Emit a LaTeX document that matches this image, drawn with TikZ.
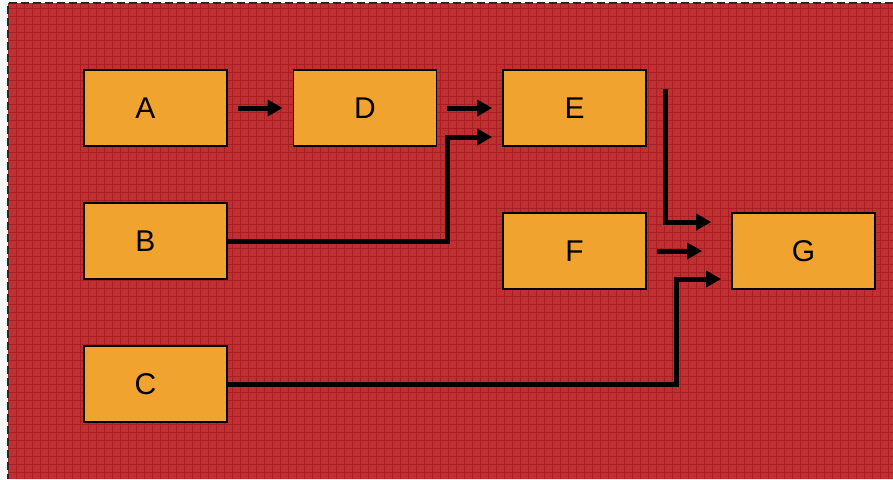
\documentclass[tikz,border=0pt]{standalone}
\usepackage{fontspec}
\setmainfont{Liberation Sans}
\usetikzlibrary{arrows.meta}
\definecolor{bgred}{RGB}{190,48,50}
\definecolor{gridred}{RGB}{170,30,34}
\definecolor{boxorange}{RGB}{240,163,46}
\definecolor{edgegray}{RGB}{40,40,40}
\tikzset{
  stepbox/.style={draw=black, line width=1.8pt, fill=boxorange,
    minimum width=143pt, minimum height=76pt, inner sep=0pt,
    font=\fontsize{30}{30}\selectfont},
  flow/.style={line width=5pt, line join=miter, line cap=butt,
    -{Triangle[length=15pt,width=16pt]}},
}
\begin{document}
\begin{tikzpicture}[x=1pt,y=-1pt]
  \useasboundingbox (0,0) rectangle (893,479);
  % page and patterned red backdrop
  \fill[white!95!gray] (0,0) rectangle (893,479);
  \fill[bgred] (8,3) rectangle (893,479);
  \draw[gridred, line width=1pt, step=8pt] (8,3) grid (893,479);
  \draw[edgegray, line width=1.4pt, dash pattern=on 8pt off 4pt] (893,3) -- (8,3) -- (8,479);

  % activity boxes
  \node[stepbox] (A) at (155.5,108) {A\hspace*{20pt}};
  \node[stepbox] (D) at (365,108) {D};
  \node[stepbox] (E) at (574.5,108) {E};
  \node[stepbox] (B) at (155.5,241) {B\hspace*{20pt}};
  \node[stepbox] (F) at (574.5,251) {F};
  \node[stepbox] (G) at (803.5,251) {G};
  \node[stepbox] (C) at (155.5,384) {C\hspace*{20pt}};

  % precedence arrows
  \draw[flow, shorten <=10pt, shorten >=10pt] (A.east) -- (D.west);
  \draw[flow, shorten <=10pt, shorten >=10pt] (D.east) -- (E.west);
  \draw[flow, shorten >=10pt] (B.east) -- (447,241) |- ([yshift=-29pt]E.west);
  \coordinate (eout) at (665,89);
  \draw[flow, shorten >=20pt] (eout) |- ([yshift=29pt]G.west);
  \draw[flow, shorten <=10pt, shorten >=29pt] (F.east) -- (G.west);
  \draw[flow, shorten >=10pt] (C.east) -- (676,384) |- ([yshift=-28pt]G.west);
\end{tikzpicture}
\end{document}
